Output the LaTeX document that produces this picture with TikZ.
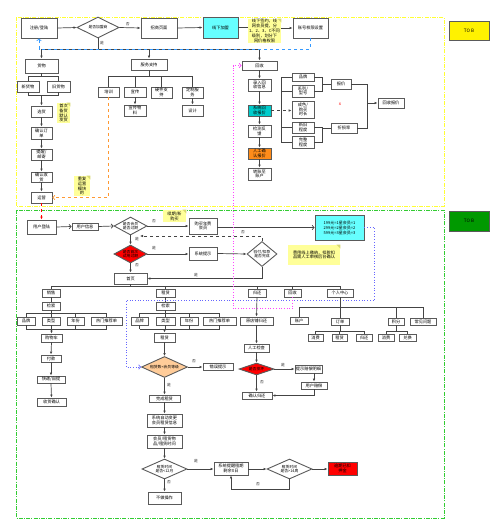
\documentclass[tikz,border=0pt]{standalone}
\usepackage{fontspec}
\setmainfont{Noto Sans CJK SC}
\usetikzlibrary{arrows.meta,shapes.geometric}
\definecolor{lineC}{HTML}{444444}
\definecolor{boxC}{HTML}{5A5A5A}
\definecolor{cyanB}{HTML}{66FFFF}
\definecolor{tealC}{HTML}{00CCCC}
\definecolor{orangeC}{HTML}{FF8C1A}
\definecolor{noteY}{HTML}{FFFF99}
\definecolor{noteD}{HTML}{D8D870}
\definecolor{peachC}{HTML}{FFCC99}
\definecolor{greenD}{HTML}{009900}
\definecolor{greenF}{HTML}{33CC33}
\definecolor{yelF}{HTML}{FFFF33}
\definecolor{blueD}{HTML}{6666FF}
\definecolor{magC}{HTML}{FF44FF}
\definecolor{orgD}{HTML}{FF9933}
\definecolor{blueL}{HTML}{3399FF}
\tikzset{
 box/.style={draw=boxC, line width=0.9pt, fill=white, inner sep=0pt, align=center, font=\fontsize{4.2}{4.8}\selectfont},
 note/.style={draw=none, fill=noteY},
 dia/.style={shape=diamond, draw=boxC, line width=0.9pt, fill=white, inner sep=0pt, align=center, font=\fontsize{3.8}{4.4}\selectfont},
 ln/.style={draw=lineC, line width=0.7pt},
 arr/.style={ln, -{Latex[length=3pt,width=2.6pt]}},
 oarr/.style={ln, -{Straight Barb[length=2pt,width=4.5pt]}},
 lbl/.style={inner sep=0pt, font=\fontsize{3.8}{4}\selectfont, text=black!80},
}
\newcommand\Bx[7][]{%
 \pgfmathsetmacro\bxcx{(#3+#5)/2}%
 \pgfmathsetmacro\bxcy{(#4+#6)/2}%
 \pgfmathsetmacro\bxw{#5-#3}%
 \pgfmathsetmacro\bxh{#6-#4}%
 \node[box,minimum width=\bxw pt,minimum height=\bxh pt,#1] (#2) at (\bxcx,\bxcy) {#7};}
\newcommand\Nt[6]{\Bx[note]{#1}{#2}{#3}{#4}{#5}{#6}%
 \fill[noteD] (#1.north east) -- ++(-4,0) -- ++(4,4) -- cycle;}
\newcommand\Dm[7][]{%
 \pgfmathsetmacro\dmasp{#5/#6}%
 \node[dia,minimum width=#5pt,minimum height=#6pt,aspect=\dmasp,#1] (#2) at (#3,#4) {#7};}
\begin{document}
\begin{tikzpicture}[x=1pt,y=-1pt]
\useasboundingbox (0,0) rectangle (500,530);
% frames
\draw[yelF, line width=0.8pt, dash pattern=on 4pt off 1.2pt on 1pt off 1.2pt] (16,17) rectangle (444,206);
\draw[greenF, line width=0.8pt, dash pattern=on 4pt off 1.2pt on 1pt off 1.2pt] (16,210) rectangle (444,518);
\Bx[fill=yellow,font=\fontsize{4.6}{5}\selectfont]{tob1}{449}{21}{489}{40}{TO B}
\Bx[fill=greenD,font=\fontsize{4.6}{5}\selectfont]{tob2}{449}{211}{489}{231}{TO B}

% ===== top section =====
\Bx{zc}{21}{18}{57}{38}{注册/登陆}
\Dm{d1}{98}{27.5}{42}{21}{是否加盟商}
\Bx{zs}{141}{18}{177}{38}{招商页面}
\Bx[fill=cyanB]{xx}{203}{17}{238}{38}{线下加盟}
\Nt{n1}{248}{19}{281}{43}{线下签约，线\\网会员提，分\\1、2、3、C不同\\级别，划分下\\网价格权限}
\Bx{zh}{293}{18}{328}{38}{账号权限设置}
\draw[arr] (zc.east) -- (d1.west);
\draw[arr] (d1.east) -- (zs.west) node[lbl, pos=0.4, above=1.5pt] (l1) {否};
\draw[arr] (zs.east) -- (xx.west);
\draw[ln] (xx.east) -- (n1.west |- xx.east);
\draw[arr] (n1.east |- zh.west) -- (zh.west);

\coordinate (tr) at (0,49);
\Bx{hw}{25}{59}{58}{73}{货物}
\Bx{fw}{131}{59}{167}{70}{服务支持}
\Bx{hs}{242}{61}{277}{70}{回收}
\draw[ln] (d1.south) -- (d1.south |- tr);
\node[lbl] (l2) at (102,43) {是};
\draw[ln] (hw.north |- tr) -- (hs.north |- tr);
\draw[arr] (hw.north |- tr) -- (hw.north);
\draw[arr] (fw.north |- tr) -- (fw.north);
\draw[arr] (hs.north |- tr) -- (hs.north);
\draw[blueL, dashed, line width=0.7pt, -{Straight Barb[length=2pt,width=4.5pt]}] (zh.south) -- (zh.south |- tr) -| (zc.south);

% goods column
\coordinate (b1) at (0,76);
\coordinate (b2) at (0,95);
\Bx{xh}{17}{81}{39}{92}{新货物}
\Bx{jh}{47}{81}{70}{92}{旧货物}
\Bx{xuan}{31}{106}{52}{117}{选货}
\Nt{n2}{57}{103}{70}{123}{首次\\备货\\默认\\发货}
\Bx{qr}{31}{127}{52}{139}{确认订\\单}
\Bx{tx}{31}{149}{52}{160}{提醒/\\邮寄}
\Bx{qs}{31}{172}{52}{182}{确认收\\货}
\Bx{yy}{31}{192}{52}{203}{运营}
\Nt{n3}{74}{176}{90}{196}{重复\\运营\\模块\\的}
\draw[ln] (hw.south) -- (hw.south |- b1);
\draw[ln] (xh.north |- b1) -- (jh.north |- b1);
\draw[ln] (xh.north |- b1) -- (xh.north);
\draw[ln] (jh.north |- b1) -- (jh.north);
\draw[ln] (xh.south) -- (xh.south |- b2) -- (jh.south |- b2) -- (jh.south);
\draw[arr] (xuan.north |- b2) -- (xuan.north);
\draw[arr] (xuan.south) -- (qr.north);
\draw[arr] (qr.south) -- (tx.north);
\draw[arr] (tx.south) -- (qs.north);
\draw[arr] (qs.south) -- (yy.north);

% service column
\Bx{px}{98}{87}{119}{97}{培训}
\Bx{xc}{124}{87}{146}{97}{宣传}
\Bx{yj}{151}{87}{172}{98}{硬件支\\持}
\Bx{dz}{182}{87}{203}{98}{定制服\\务}
\Bx{xcw}{124}{105}{146}{116}{宣传物\\料}
\Bx{sj}{182}{105}{203}{116}{设计}
\draw[ln] (fw.south) -- (fw.south |- b1);
\draw[ln] (px.north |- b1) -- (dz.north |- b1);
\draw[ln] (px.north |- b1) -- (px.north);
\draw[ln] (xc.north |- b1) -- (xc.north);
\draw[ln] (yj.north |- b1) -- (yj.north);
\draw[ln] (dz.north |- b1) -- (dz.north);
\draw[arr] (xc.south) -- (xcw.north);
\draw[arr] (dz.south) -- (sj.north);
\draw[orgD, dashed, line width=0.7pt, -{Straight Barb[length=2pt,width=4.5pt]}] (px.south) |- (yy.east);

% recycle column
\Bx{lr}{248}{79}{271}{91}{录入回\\收信息}
\Bx[fill=tealC]{xt}{248}{105}{271}{116}{系统回\\收报价}
\Bx{jc}{248}{125}{271}{137}{检测反\\馈}
\Bx[fill=orangeC]{rg}{248}{148}{271}{159}{人工确\\认报价}
\Bx{zz}{248}{168}{271}{180}{转账至\\账户}
\draw[arr] (hs.south) -- (lr.north);
\draw[arr] (lr.south) -- (xt.north);
\draw[arr] (xt.south) -- (jc.north);
\draw[arr] (jc.south) -- (rg.north);
\draw[arr] (rg.south) -- (zz.north);

\Bx{pp}{292}{73}{314}{81}{品牌}
\Bx{xl}{292}{85}{314}{97}{系列/\\型号}
\Bx{cs}{292}{101}{314}{118}{成色/\\购买\\时长}
\Bx{xj}{292}{122}{314}{133}{新旧\\程度}
\Bx{wz}{292}{136}{314}{148}{完整\\程度}
\draw[arr, dashed] (xt.east) -- (cs.west |- xt.east);
\coordinate (ab) at (281,0);
\draw[ln] (ab |- pp.west) -- (ab |- wz.west);
\draw[ln] (ab |- pp.west) -- (pp.west);
\draw[ln] (ab |- xl.west) -- (xl.west);
\draw[ln] (ab |- xj.west) -- (xj.west);
\draw[ln] (ab |- wz.west) -- (wz.west);
\Bx{bj}{331}{79}{351}{89}{报价}
\Bx{zs2}{331}{123}{357}{133}{折损率}
\Bx{hb}{378}{98}{404}{108}{回收报价}
\coordinate (rb) at (322,0);
\coordinate (rb2) at (367,0);
\draw[ln] (pp.east) -- (rb |- pp.east) -- (rb |- xl.east) -- (xl.east);
\draw[ln] (rb |- bj.west) -- (bj.west);
\draw[ln] (xj.east) -- (rb |- xj.east) -- (rb |- wz.east) -- (wz.east);
\draw[ln] (rb |- zs2.west) -- (zs2.west);
\draw[ln] (bj.east) -- (rb2 |- bj.east) -- (rb2 |- zs2.east) -- (zs2.east);
\draw[arr] (rb2 |- hb.west) -- (hb.west);
\node[inner sep=0pt, text=red, font=\fontsize{4.5}{5}\selectfont] (rx) at (340,104) {x};

% ===== green section =====
\Bx{dl}{27}{220}{56}{234}{用户登陆}
\draw[red, dashed, line width=0.7pt, -{Latex[length=3pt,width=2.6pt]}] (yy.south) -- (dl.north);
\Bx{xx2}{72}{223}{98}{230}{用户信息}
\Dm{d2}{130.5}{226}{33}{18}{是否会员\\是否过期}
\Bx{gm}{189}{218}{217}{234}{购买年费\\会员}
\Nt{n4}{163}{210}{186}{222}{续期/新\\购买}
\Bx[fill=cyanB,font=\fontsize{4}{5}\selectfont]{cy}{315}{215}{364}{240}{199元=1星会员=1\\299元=2星会员=2\\599元=3星会员=3}
\draw[oarr] (dl.east) -- (xx2.west);
\draw[oarr] (xx2.east) -- (d2.west);
\draw[arr] (d2.east) -- (gm.west |- d2.east);
\node[lbl] (l3) at (154,221) {否};
\draw[oarr] (gm.east |- cy.west) -- (cy.west);

\Dm[fill=red]{d3}{130.5}{254}{33}{18}{是否首次\\试用过期}
\draw[arr] (d2.south) -- (d3.north);
\node[lbl] (l4) at (137,239) {是};
\Bx{xtts}{189}{247}{217}{260}{系统提示}
\Dm{d4}{262}{254}{30}{25}{验付/扣款\\是否完成}
\Nt{n5}{288}{245}{340}{265}{费用线上缴纳，扣款扣\\品需人工审核后台确认}
\draw[arr] (d3.east) -- (xtts.west |- d3.east);
\node[lbl] (l5) at (154,248) {是};
\draw[arr] (xtts.east) -- (d4.west);
\coordinate (dk) at (140,236);
\draw[arr, dashed] (d4.north) |- (dk);
\node[lbl] (l6) at (243,232) {否};

\Bx{sy}{114}{273}{147}{284}{首页}
\draw[arr] (d3.south) -- (sy.north);
\node[lbl] (l7) at (137,265) {否};
\draw[arr] (d4.south) |- (sy.east);
\node[lbl] (l8) at (196,275) {是};

% tabs
\coordinate (tt) at (0,286);
\Bx{t1}{42}{289}{60}{297}{销售}
\Bx{t2}{156}{289}{175}{297}{租赁}
\Bx{t3}{248}{289}{266}{297}{归还}
\Bx{t4}{284}{289}{301}{297}{回收}
\Bx{t5}{327}{289}{353}{297}{个人中心}
\draw[ln] (sy.south) -- (sy.south |- tt);
\draw[ln] (t1.north |- tt) -- (t5.north |- tt);
\foreach \t in {t1,t2,t3,t4,t5} \draw[ln] (\t.north |- tt) -- (\t.north);

% sales column
\coordinate (b3) at (0,313);
\coordinate (b4) at (0,329);
\Bx{js1}{42}{302}{60}{310}{检索}
\Bx{pp1}{17}{317}{35}{325}{品牌}
\Bx{lx1}{42}{317}{60}{325}{类型}
\Bx{nf1}{67}{317}{84}{325}{年份}
\Bx{rm1}{91}{317}{122}{325}{热门推荐单}
\Bx{gw}{41}{334}{62}{342}{购物车}
\Bx{fk}{41}{355}{61}{362}{付款}
\Bx{kd}{37}{376}{65}{383}{快递/自提}
\Bx{sh}{37}{398}{66}{406}{收货确认}
\draw[ln] (t1.south) -- (js1.north);
\draw[ln] (js1.south) -- (js1.south |- b3);
\draw[ln] (pp1.north |- b3) -- (rm1.north |- b3);
\foreach \t in {pp1,lx1,nf1,rm1} {\draw[ln] (\t.north |- b3) -- (\t.north); \draw[ln] (\t.south) -- (\t.south |- b4);}
\draw[ln] (pp1.south |- b4) -- (rm1.south |- b4);
\draw[arr] (gw.north |- b4) -- (gw.north);
\draw[arr] (gw.south) -- (fk.north);
\draw[arr] (fk.south) -- (kd.north);
\draw[arr] (kd.south) -- (sh.north);

% rent column
\Bx{js2}{156}{302}{175}{310}{检索}
\Bx{pp2}{131}{317}{148}{325}{品牌}
\Bx{lx2}{156}{317}{175}{325}{类型}
\Bx{nf2}{180}{317}{198}{325}{年份}
\Bx{rm2}{203}{317}{236}{325}{热门推荐单}
\Bx{zl}{154}{333}{175}{342}{租赁}
\draw[ln] (t2.south) -- (js2.north);
\draw[ln] (js2.south) -- (js2.south |- b3);
\draw[ln] (pp2.north |- b3) -- (rm2.north |- b3);
\foreach \t in {pp2,lx2,nf2,rm2} {\draw[ln] (\t.north |- b3) -- (\t.north); \draw[ln] (\t.south) -- (\t.south |- b4);}
\draw[ln] (pp2.south |- b4) -- (rm2.south |- b4);
\draw[arr] (zl.north |- b4) -- (zl.north);
\Dm[fill=peachC]{d5}{164.5}{367}{46}{21}{租赁数<会员等级}
\Bx{cw}{203}{363}{233}{370}{错误提示}
\Bx{wc}{149}{395}{180}{402}{完成租赁}
\draw[arr] (zl.south) -- (d5.north);
\draw[arr] (d5.east) -- (cw.west |- d5.east);
\node[lbl] (l9) at (194,361) {否};
\draw[arr] (d5.south) -- (wc.north);
\node[lbl] (l10) at (169,385) {是};
\Bx{zd}{147}{414}{182}{427}{系统自动变更\\会员租赁信息}
\Bx{hy}{147}{435}{182}{448}{会员/租赁物\\品/租赁时间}
\Dm{d6}{164.5}{469}{45}{20}{租赁时间\\是否<12月}
\Bx{bz}{148}{492}{181}{504}{不做操作}
\Bx{tx2}{214}{462}{248}{475}{系统提醒租期\\剩余X日}
\Dm{d7}{289.5}{469}{45}{20}{租赁时间\\是否>14周}
\Bx[fill=red]{yq}{328}{462}{357}{475}{逾期已扣\\押金}
\draw[arr] (wc.south) -- (zd.north);
\draw[arr] (zd.south) -- (hy.north);
\draw[arr] (hy.south) -- (d6.north);
\draw[arr] (d6.south) -- (bz.north);
\node[lbl] (l11) at (169,482) {否};
\draw[arr] (d6.east) -- (tx2.west |- d6.east);
\node[lbl] (l12) at (196,461) {是};
\draw[arr] (tx2.east |- d7.west) -- (d7.west);
\draw[arr] (d7.east) -- (yq.west |- d7.east);
\draw[arr] (d7.south) -- ++(0,10) -| (tx2.south);
\node[lbl] (l13) at (258,484) {否};

% blue dotted
\coordinate (mb) at (126,300);
\draw[blueD, dotted, line width=0.7pt, -{Straight Barb[length=2pt,width=4.5pt]}] (cy.east) -- ++(10,0) |- (mb) |- (d5.west);

% return column
\Bx{yd}{240}{317}{273}{325}{原店铺归还}
\Bx{rj}{244}{344}{269}{352}{人工检查}
\Dm[fill=red]{d8}{256.5}{369}{35}{12}{是否损坏}
\Bx{ts}{295}{365}{322}{373}{提示赔偿明细}
\Bx{yp}{301}{382}{327}{389}{用户赔偿}
\Bx{qrgh}{242}{392}{272}{399}{确认归还}
\draw[arr] (t3.south) -- (yd.north);
\draw[arr] (yd.south) -- (rj.north);
\draw[arr] (rj.south) -- (d8.north);
\draw[arr] (d8.east) -- (ts.west |- d8.east);
\node[lbl] (l14) at (283,365) {是};
\draw[arr] (yp.north |- ts.south) -- (yp.north);
\draw[arr] (yp.south) |- (qrgh.east);
\draw[arr] (d8.south) -- (qrgh.north -| d8.south);
\node[lbl] (l15) at (262,382) {否};

% magenta dotted
\coordinate (mg) at (233,0);
\draw[magC, dotted, line width=0.7pt, -{Straight Barb[length=2pt,width=4.5pt]}] (t4.south) -- ++(0,11) -| (mg |- hs.west) -- (hs.west);

% personal center
\coordinate (pc) at (0,307);
\coordinate (pc2) at (0,331);
\Bx{zh2}{290}{317}{308}{324}{账户}
\Bx{dd}{331}{318}{349}{325}{订单}
\Bx{jf}{388}{318}{404}{325}{积分}
\Bx{cj}{410}{318}{436}{325}{常见问题}
\Bx{xf1}{308}{334}{323}{341}{消费}
\Bx{zl2}{332}{334}{347}{341}{租赁}
\Bx{gh2}{356}{334}{372}{341}{归还}
\Bx{xf2}{378}{334}{394}{341}{消费}
\Bx{dh}{399}{334}{416}{341}{兑换}
\draw[ln] (t5.south) -- (dd.north);
\draw[ln] (zh2.north |- pc) -- (cj.north |- pc);
\foreach \t in {zh2,jf,cj} \draw[ln] (\t.north |- pc) -- (\t.north);
\draw[ln] (dd.south) -- (dd.south |- pc2);
\draw[ln] (xf1.north |- pc2) -- (gh2.north |- pc2);
\foreach \t in {xf1,zl2,gh2} \draw[ln] (\t.north |- pc2) -- (\t.north);
\draw[ln] (jf.south) -- (jf.south |- pc2);
\draw[ln] (xf2.north |- pc2) -- (dh.north |- pc2);
\foreach \t in {xf2,dh} \draw[ln] (\t.north |- pc2) -- (\t.north);
\end{tikzpicture}
\end{document}
